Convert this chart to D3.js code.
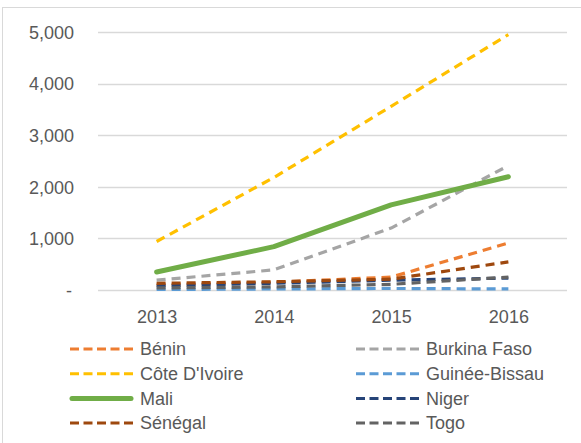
<!DOCTYPE html>
<html>
<head>
<meta charset="utf-8">
<script src="https://cdn.jsdelivr.net/npm/d3@7"></script>
<style>
  html, body { margin: 0; padding: 0; background: #fff; }
  svg { display: block; font-family: "Liberation Sans", Arial, sans-serif; }
</style>
</head>
<body>
<svg id="chart" width="581" height="443"></svg>
<script>
// Years on the category axis
const years = ["2013", "2014", "2015", "2016"];

// One array per country
const benin        = [100, 150, 250, 910];
const burkinaFaso  = [190, 390, 1200, 2410];
const coteDIvoire  = [940, 2180, 3560, 4950];
const guineeBissau = [10, 20, 30, 20];
const mali         = [350, 840, 1650, 2195];
const niger        = [80, 130, 190, 230];
const senegal      = [130, 160, 210, 545];
const togo         = [40, 60, 110, 250];

const yTicks = [0, 1000, 2000, 3000, 4000, 5000];

const series = [
  { name: "Bénin",          values: benin,        color: "#ED7D31", solid: false },
  { name: "Burkina Faso",   values: burkinaFaso,  color: "#A5A5A5", solid: false },
  { name: "Côte D'Ivoire",  values: coteDIvoire,  color: "#FFC000", solid: false },
  { name: "Guinée-Bissau",  values: guineeBissau, color: "#5B9BD5", solid: false },
  { name: "Mali",           values: mali,         color: "#70AD47", solid: true  },
  { name: "Niger",          values: niger,        color: "#264478", solid: false },
  { name: "Sénégal",        values: senegal,      color: "#9E480E", solid: false },
  { name: "Togo",           values: togo,         color: "#636363", solid: false }
];

const svg = d3.select("#chart");
const textColor = "#595959";

// outer frame
svg.append("rect")
  .attr("x", 2.5).attr("y", 7.5)
  .attr("width", 600).attr("height", 500)
  .attr("fill", "none").attr("stroke", "#d9d9d9").attr("stroke-width", 1);

const plot = { left: 98, right: 567, top: 32, bottom: 290 };

const x = d3.scalePoint()
  .domain(years)
  .range([plot.left, plot.right])
  .padding(0.5);

const y = d3.scaleLinear()
  .domain([0, 5000])
  .range([plot.bottom, plot.top]);

// horizontal gridlines
svg.append("g")
  .selectAll("line")
  .data(yTicks)
  .join("line")
  .attr("x1", plot.left).attr("x2", plot.right)
  .attr("y1", d => Math.round(y(d)) + 0.5)
  .attr("y2", d => Math.round(y(d)) + 0.5)
  .attr("stroke", "#d9d9d9")
  .attr("stroke-width", 1.5);

// y axis labels
const yAxis = d3.axisLeft(y)
  .tickValues(yTicks)
  .tickSize(0)
  .tickPadding(0)
  .tickFormat(d => d === 0 ? "-" : d3.format(",")(d));

svg.append("g")
  .attr("transform", `translate(74,0)`)
  .call(yAxis)
  .call(g => g.select(".domain").remove())
  .call(g => g.selectAll("text")
    .attr("fill", textColor)
    .attr("font-size", 18)
    .attr("dy", "0.35em")
    .style("font-family", "'Liberation Sans', Arial, sans-serif"))
  .call(g => g.selectAll("text").filter(d => d === 0).attr("dx", -2));

// x axis labels
const xAxis = d3.axisBottom(x).tickSize(0).tickPadding(0);
svg.append("g")
  .attr("transform", `translate(0,${plot.bottom})`)
  .call(xAxis)
  .call(g => g.select(".domain").remove())
  .call(g => g.selectAll("text")
    .attr("fill", textColor)
    .attr("font-size", 18)
    .attr("y", 20)
    .attr("dy", "0.71em")
    .style("font-family", "'Liberation Sans', Arial, sans-serif"));

// series lines
const line = d3.line()
  .x((d, i) => x(years[i]))
  .y(d => y(d));

svg.append("g")
  .selectAll("path")
  .data(series)
  .join("path")
  .attr("d", s => line(s.values))
  .attr("fill", "none")
  .attr("stroke", s => s.color)
  .attr("stroke-width", s => s.solid ? 5 : 3.2)
  .attr("stroke-dasharray", s => s.solid ? null : "9,6")
  .attr("stroke-linejoin", "round")
  .attr("stroke-linecap", s => s.solid ? "round" : "butt");

// legend in two columns
const legend = svg.append("g");
const colX = [70, 356];
const rowY0 = 349, rowStep = 24.7;

const items = legend.selectAll("g")
  .data(series)
  .join("g")
  .attr("transform", (s, i) => `translate(${colX[i % 2]},${rowY0 + Math.floor(i / 2) * rowStep})`);

items.append("line")
  .attr("x1", d => d.solid ? 2 : 0).attr("x2", d => d.solid ? 61 : 63)
  .attr("y1", 0).attr("y2", 0)
  .attr("stroke", d => d.color)
  .attr("stroke-width", d => d.solid ? 5 : 3)
  .attr("stroke-dasharray", d => d.solid ? null : "9,4.5")
  .attr("stroke-linecap", d => d.solid ? "round" : "butt");

items.append("text")
  .attr("x", 70)
  .attr("y", 0)
  .attr("dy", "0.35em")
  .attr("fill", textColor)
  .attr("font-size", 18)
  .text(d => d.name);
</script>
</body>
</html>
